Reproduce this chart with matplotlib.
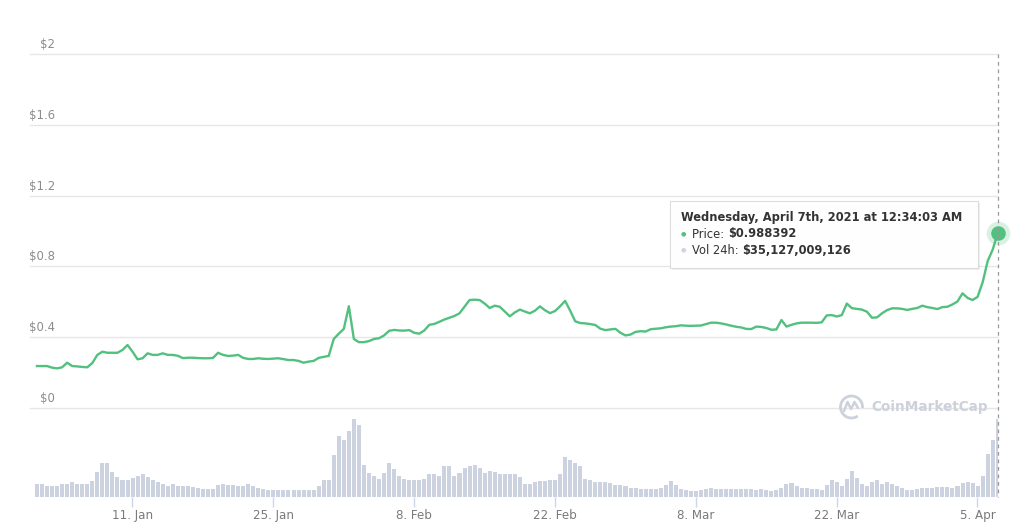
import matplotlib
matplotlib.use("Agg")
import matplotlib.pyplot as plt
import matplotlib.dates as mdates
import matplotlib.patches as mpatches
import matplotlib.transforms as mtransforms
from matplotlib.lines import Line2D
from datetime import datetime, timedelta

# ---------------- data ----------------
start_time = datetime(2021, 1, 1, 12, 34, 3)
step_hours = 12

price = [
    0.237, 0.237, 0.237, 0.228, 0.224, 0.230, 0.256, 0.237, 0.235, 0.232,
    0.230, 0.254, 0.300, 0.318, 0.312, 0.312, 0.312, 0.328, 0.356, 0.318,
    0.275, 0.281, 0.309, 0.300, 0.300, 0.309, 0.300, 0.300, 0.295, 0.282,
    0.284, 0.284, 0.282, 0.281, 0.281, 0.283, 0.312, 0.300, 0.294, 0.296,
    0.300, 0.283, 0.277, 0.277, 0.281, 0.278, 0.277, 0.279, 0.281, 0.276,
    0.271, 0.271, 0.266, 0.256, 0.262, 0.266, 0.283, 0.289, 0.294, 0.390,
    0.420, 0.447, 0.575, 0.390, 0.372, 0.372, 0.378, 0.390, 0.394, 0.410,
    0.436, 0.441, 0.438, 0.437, 0.440, 0.425, 0.420, 0.438, 0.470, 0.475,
    0.487, 0.500, 0.510, 0.520, 0.535, 0.572, 0.610, 0.612, 0.610, 0.590,
    0.565, 0.578, 0.572, 0.545, 0.518, 0.540, 0.556, 0.545, 0.535, 0.550,
    0.574, 0.552, 0.536, 0.548, 0.575, 0.605, 0.550, 0.490, 0.480, 0.478,
    0.474, 0.469, 0.448, 0.440, 0.444, 0.447, 0.425, 0.410, 0.415, 0.430,
    0.434, 0.432, 0.445, 0.448, 0.450, 0.456, 0.460, 0.462, 0.467, 0.465,
    0.464, 0.465, 0.466, 0.474, 0.482, 0.482, 0.478, 0.472, 0.465, 0.459,
    0.455, 0.447, 0.446, 0.460, 0.458, 0.452, 0.442, 0.444, 0.497, 0.460,
    0.470, 0.478, 0.482, 0.482, 0.482, 0.481, 0.484, 0.523, 0.525, 0.517,
    0.525, 0.590, 0.564, 0.560, 0.556, 0.544, 0.510, 0.512, 0.535, 0.553,
    0.563, 0.563, 0.560, 0.554, 0.560, 0.565, 0.578, 0.570, 0.565, 0.559,
    0.570, 0.572, 0.585, 0.602, 0.648, 0.622, 0.610, 0.628, 0.710, 0.830,
    0.895, 0.988392,
]

# 24h volume, billions of USD
volume = [
    5.98, 5.98, 5.08, 5.08, 5.08, 5.68, 5.98, 6.58, 5.98, 5.68,
    5.68, 7.03, 11.2, 15.25, 15.25, 11.06, 8.97, 7.77, 7.77, 8.67,
    9.27, 10.47, 8.97, 7.48, 6.58, 5.68, 5.08, 5.68, 5.08, 5.08,
    5.08, 4.49, 4.19, 3.74, 3.74, 3.74, 5.23, 5.68, 5.23, 5.23,
    4.78, 4.78, 5.68, 5.08, 3.89, 3.74, 3.29, 2.99, 3.29, 3.29,
    3.29, 3.29, 3.29, 3.29, 3.29, 3.29, 5.08, 7.77, 7.48, 18.7,
    27.2, 25.7, 29.5, 35.1, 32.4, 14.2, 10.9, 9.27, 8.07, 10.9,
    15.25, 12.7, 9.27, 7.92, 7.48, 7.77, 7.48, 7.92, 10.47, 10.17,
    9.42, 13.75, 13.75, 9.42, 10.9, 13.0, 13.75, 14.2, 13.2, 10.9,
    11.66, 11.36, 10.17, 10.47, 10.47, 10.47, 8.97, 5.98, 5.98,
    6.73, 7.33, 7.33, 7.77, 7.48, 10.17, 17.94, 16.45, 15.25, 13.75,
    8.22, 7.48, 6.73, 6.88, 6.88, 6.28, 5.53, 5.23, 4.78, 4.19,
    4.19, 3.74, 3.74, 3.74, 3.74, 4.19, 5.53, 7.03, 5.23, 3.74,
    2.99, 2.69, 2.69, 2.99, 3.74, 4.19, 3.74, 3.74, 3.74, 3.74,
    3.74, 3.74, 3.74, 3.74, 3.29, 3.74, 2.99, 2.69, 2.99, 4.19,
    5.68, 6.28, 4.78, 4.19, 3.89, 3.74, 3.59, 3.29, 5.23, 7.77,
    6.73, 4.78, 8.22, 11.66, 8.67, 5.98, 4.78, 6.73, 7.48, 5.98,
    6.58, 5.68, 4.78, 3.89, 3.29, 3.29, 3.74, 4.19, 4.19, 4.19,
    4.49, 4.49, 4.49, 4.19, 4.78, 6.28, 6.88, 6.28, 5.08, 9.27,
    19.4, 25.4, 35.127009126,
]

price_ticks = [0, 0.4, 0.8, 1.2, 1.6, 2.0]
date_ticks = ["2021-01-11", "2021-01-25", "2021-02-08", "2021-02-22",
              "2021-03-08", "2021-03-22", "2021-04-05"]
tooltip_volume = 35127009126

dates = [start_time + timedelta(hours=step_hours * i) for i in range(len(price))]

# ---------------- style ----------------
GREEN = "#52c07e"
BAR = "#cdd2e0"
GRID = "#e6e6e6"
LABEL = "#8c8c8c"
plt.rcParams["font.family"] = ["DejaVu Sans"]

W, H = 1024, 530
fig = plt.figure(figsize=(W / 100, H / 100), dpi=100)
fig.patch.set_facecolor("white")

def fx(px):
    return px / W

def fy(py):
    return (H - py) / H

x_left = mdates.date2num(datetime(2021, 1, 11)) - 10.17
x_right = mdates.date2num(datetime(2021, 1, 11)) + 86.05

# price axes
ax_p = fig.add_axes([fx(30), fy(408), fx(998) - fx(30), fy(54) - fy(408)])
ax_p.set_xlim(x_left, x_right)
ax_p.set_ylim(0, 2)
for s in ax_p.spines.values():
    s.set_visible(False)
ax_p.set_xticks([])
ax_p.set_yticks([])
ax_p.patch.set_alpha(0)

lab_tr = mtransforms.offset_copy(ax_p.get_yaxis_transform(), fig=fig, x=0, y=3, units="dots")
for v in price_ticks:
    ax_p.axhline(v, color=GRID, lw=1, clip_on=False, zorder=0)
    ax_p.text((55 - 30) / 968, v, f"${v:g}", transform=lab_tr, ha="right", va="bottom",
              fontsize=8.4, color=LABEL)

ax_p.plot(dates, price, color=GREEN, lw=1.7, solid_joinstyle="round", zorder=3)
ax_p.plot(dates[-1], price[-1], "o", ms=17, color=GREEN, alpha=0.22, mec="none",
          clip_on=False, zorder=4)
ax_p.plot(dates[-1], price[-1], "o", ms=10.5, color=GREEN, mec="none",
          clip_on=False, zorder=5)

# volume axes
ax_v = fig.add_axes([fx(30), fy(497), fx(998) - fx(30), fy(410) - fy(497)])
ax_v.set_xlim(x_left, x_right)
ax_v.set_ylim(0, volume[-1] * 87 / 78.5)
ax_v.bar(dates, volume, width=0.4, color=BAR, align="center", zorder=2)
for s in ax_v.spines.values():
    s.set_visible(False)
ax_v.set_yticks([])
ax_v.patch.set_alpha(0)
tick_dt = [datetime.strptime(d, "%Y-%m-%d") for d in date_ticks]
ax_v.set_xticks(tick_dt)
ax_v.set_xticklabels([f"{d.day}. {d.strftime('%b')}" for d in tick_dt])
ax_v.tick_params(axis="x", length=7.2, width=1, color="#ccd6eb", pad=1.5,
                 labelsize=8.6, labelcolor="#7a7a7a")

# crosshair dashed line
cross_tr = mtransforms.blended_transform_factory(ax_p.transData, fig.transFigure)
x_last = mdates.date2num(dates[-1])
fig.add_artist(Line2D([x_last, x_last], [fy(54), fy(497)], transform=cross_tr,
                      color="#9a9a9a", lw=0.9, ls=(0, (3, 3)), zorder=1))

# tooltip
shadow = mpatches.Rectangle((fx(672), fy(270)), fx(978) - fx(670), (268 - 201) / H,
                            transform=fig.transFigure, facecolor="#000000", alpha=0.06,
                            edgecolor="none", zorder=6)
box = mpatches.Rectangle((fx(670), fy(268)), fx(978) - fx(670), (268 - 201) / H,
                         transform=fig.transFigure, facecolor="white", alpha=0.97,
                         edgecolor="#dcdcdc", lw=0.8, zorder=7)
fig.add_artist(shadow)
fig.add_artist(box)

d = dates[-1]
title = (d.strftime("%A, %B ") + f"{d.day}th, {d.year} at " + d.strftime("%I:%M:%S %p"))
fig.text(fx(681), fy(217), title, fontsize=8.3, fontweight="bold", color="#333333",
         va="center", ha="left", zorder=8)

fig.text(fx(681), fy(234), "●", fontsize=4.5, color=GREEN, va="center", ha="left", zorder=8)
t1 = fig.text(fx(692), fy(234), "Price: ", fontsize=8.3, color="#333333", va="center",
              ha="left", zorder=8)
fig.add_artist(plt.Annotation(f"${price[-1]}", xy=(1, 0.5), xycoords=t1, fontsize=8.3,
                              fontweight="bold", color="#333333", va="center", ha="left",
                              zorder=8))

fig.text(fx(681), fy(250), "●", fontsize=4.5, color="#cfd4e0", va="center", ha="left", zorder=8)
t2 = fig.text(fx(692), fy(250), "Vol 24h: ", fontsize=8.3, color="#333333", va="center",
              ha="left", zorder=8)
fig.add_artist(plt.Annotation(f"${tooltip_volume:,}", xy=(1, 0.5), xycoords=t2, fontsize=8.3,
                              fontweight="bold", color="#333333", va="center", ha="left",
                              zorder=8))

# watermark
wm = "#cdd1db"
r = 11
fig.add_artist(mpatches.Arc((fx(851.5), fy(407)), 2 * r / W, 2 * r / H, theta1=-10, theta2=290,
                            transform=fig.transFigure, color=wm, lw=2.0, zorder=1))
wave_x = [844, 847.5, 851, 854.5, 858]
wave_y = [411, 402, 409, 402, 408]
fig.add_artist(Line2D([fx(v) for v in wave_x], [fy(v) for v in wave_y],
                      transform=fig.transFigure, color=wm, lw=1.8,
                      solid_joinstyle="round", solid_capstyle="round", zorder=1))
fig.text(fx(871), fy(407), "CoinMarketCap", fontsize=9.8, fontweight="bold", color=wm,
         va="center", ha="left", zorder=1)

fig.savefig("out.png", dpi=100, facecolor="white")
